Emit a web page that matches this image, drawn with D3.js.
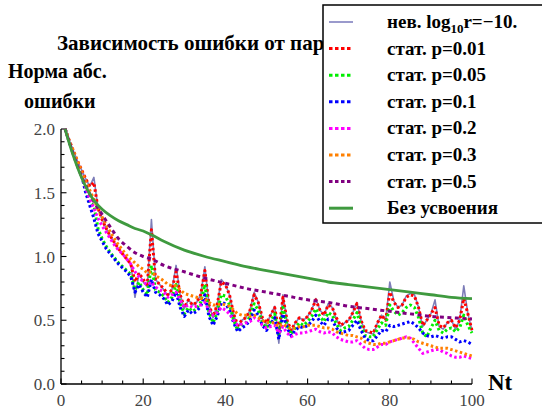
<!DOCTYPE html>
<html><head><meta charset="utf-8">
<script src="https://cdn.jsdelivr.net/npm/d3@7/dist/d3.min.js"></script>
<style>body{margin:0;background:#fff}svg{display:block}</style>
</head><body><svg id="c" width="542" height="410"></svg>
<script>
const nt = d3.range(1, 101);
const nevR10 = [2.00,1.91,1.83,1.75,1.68,1.61,1.55,1.62,1.38,1.29,
 1.22,1.16,1.11,1.06,1.02,0.98,0.94,0.68,0.87,0.80,
 0.76,1.29,0.82,0.78,0.74,0.69,0.74,0.93,0.70,0.59,
 0.66,0.62,0.64,0.70,0.92,0.62,0.52,0.62,0.82,0.78,
 0.70,0.55,0.44,0.50,0.52,0.58,0.72,0.64,0.51,0.47,
 0.54,0.61,0.32,0.70,0.49,0.41,0.48,0.52,0.50,0.53,
 0.58,0.67,0.58,0.54,0.63,0.60,0.51,0.45,0.48,0.50,
 0.56,0.64,0.50,0.41,0.40,0.39,0.48,0.54,0.50,0.80,
 0.65,0.60,0.62,0.69,0.71,0.70,0.60,0.45,0.50,0.55,
 0.66,0.45,0.43,0.48,0.50,0.43,0.50,0.77,0.55,0.42];
const p001 = [2.00,1.91,1.83,1.75,1.68,1.61,1.55,1.58,1.38,1.29,
 1.22,1.16,1.11,1.06,1.02,0.98,0.94,0.80,0.87,0.82,
 0.78,1.21,0.82,0.78,0.75,0.70,0.74,0.88,0.70,0.60,
 0.66,0.62,0.64,0.70,0.89,0.62,0.53,0.62,0.80,0.78,
 0.70,0.55,0.46,0.50,0.52,0.58,0.70,0.64,0.52,0.48,
 0.54,0.60,0.40,0.68,0.50,0.42,0.48,0.52,0.50,0.53,
 0.58,0.66,0.58,0.54,0.62,0.60,0.52,0.46,0.48,0.50,
 0.56,0.63,0.50,0.42,0.41,0.40,0.48,0.54,0.50,0.72,
 0.64,0.60,0.62,0.68,0.70,0.69,0.60,0.46,0.50,0.55,
 0.60,0.46,0.44,0.48,0.50,0.44,0.50,0.67,0.55,0.42];
const p005 = [2.00,1.90,1.81,1.72,1.64,1.52,1.42,1.40,1.22,1.14,
 1.08,1.03,0.99,0.95,0.92,0.89,0.86,0.74,0.80,0.74,
 0.70,0.93,0.74,0.72,0.69,0.64,0.68,0.78,0.63,0.55,
 0.60,0.57,0.59,0.64,0.78,0.56,0.48,0.56,0.70,0.69,
 0.62,0.50,0.42,0.46,0.48,0.53,0.63,0.58,0.48,0.44,
 0.49,0.55,0.38,0.60,0.46,0.39,0.44,0.48,0.46,0.49,
 0.53,0.59,0.53,0.49,0.56,0.54,0.47,0.42,0.44,0.45,
 0.50,0.56,0.45,0.38,0.37,0.37,0.43,0.48,0.46,0.62,
 0.57,0.54,0.56,0.60,0.62,0.60,0.52,0.40,0.37,0.44,
 0.50,0.42,0.40,0.43,0.44,0.41,0.44,0.54,0.46,0.40];
const p01 = [2.00,1.90,1.81,1.72,1.64,1.50,1.40,1.30,1.18,1.12,
 1.06,1.02,0.98,0.94,0.91,0.88,0.84,0.72,0.78,0.72,
 0.68,0.82,0.72,0.70,0.67,0.62,0.65,0.72,0.60,0.53,
 0.58,0.55,0.57,0.61,0.70,0.53,0.46,0.53,0.64,0.63,
 0.58,0.48,0.41,0.44,0.46,0.50,0.58,0.54,0.46,0.42,
 0.47,0.52,0.35,0.55,0.44,0.38,0.42,0.45,0.44,0.46,
 0.49,0.54,0.49,0.46,0.51,0.50,0.44,0.40,0.41,0.42,
 0.46,0.50,0.42,0.36,0.34,0.34,0.38,0.42,0.41,0.46,
 0.45,0.46,0.47,0.48,0.49,0.47,0.44,0.40,0.38,0.37,
 0.38,0.37,0.36,0.37,0.37,0.35,0.33,0.34,0.33,0.31];
const p02 = [2.00,1.90,1.81,1.72,1.64,1.54,1.45,1.38,1.30,1.24,
 1.19,1.14,1.09,1.05,1.02,0.98,0.94,0.88,0.84,0.80,
 0.78,0.80,0.76,0.74,0.72,0.68,0.70,0.72,0.66,0.60,
 0.62,0.60,0.61,0.62,0.64,0.58,0.54,0.56,0.60,0.58,
 0.55,0.50,0.46,0.47,0.48,0.49,0.52,0.50,0.46,0.44,
 0.45,0.46,0.40,0.45,0.40,0.37,0.39,0.40,0.40,0.41,
 0.42,0.43,0.41,0.40,0.41,0.40,0.37,0.35,0.34,0.33,
 0.33,0.34,0.31,0.28,0.27,0.27,0.29,0.31,0.31,0.33,
 0.34,0.35,0.36,0.37,0.36,0.32,0.28,0.24,0.25,0.26,
 0.27,0.27,0.25,0.24,0.22,0.21,0.21,0.22,0.21,0.20];
const p03 = [2.00,1.91,1.83,1.75,1.67,1.59,1.52,1.45,1.37,1.31,
 1.25,1.19,1.14,1.09,1.05,1.01,0.98,0.95,0.92,0.90,
 0.87,0.88,0.85,0.83,0.81,0.78,0.77,0.77,0.74,0.71,
 0.70,0.69,0.68,0.67,0.67,0.64,0.62,0.62,0.63,0.62,
 0.61,0.58,0.55,0.54,0.54,0.53,0.54,0.52,0.50,0.48,
 0.48,0.48,0.45,0.47,0.45,0.43,0.44,0.45,0.45,0.46,
 0.46,0.46,0.45,0.44,0.44,0.43,0.41,0.40,0.39,0.38,
 0.38,0.37,0.36,0.33,0.32,0.31,0.31,0.32,0.32,0.33,
 0.34,0.35,0.36,0.36,0.36,0.35,0.33,0.32,0.31,0.30,
 0.29,0.28,0.28,0.28,0.27,0.26,0.25,0.24,0.23,0.22];
const smoothNt = [1,2,3,4,5,6,7,8,10,12,14,16,18,20,22,25,30,35,40,45,50,55,60,65,70,75,80,85,90,95,100];
const p05 = [2.00,1.90,1.80,1.71,1.63,1.56,1.49,1.43,1.33,1.23,1.14,1.08,1.03,1.00,0.98,0.93,0.88,0.83,0.79,0.75,0.72,0.69,0.66,0.64,0.61,0.59,0.57,0.55,0.53,0.52,0.51];
const noAssim = [2.00,1.89,1.79,1.70,1.62,1.55,1.49,1.44,1.37,1.32,1.28,1.25,1.22,1.20,1.17,1.12,1.05,1.00,0.96,0.92,0.89,0.86,0.83,0.80,0.78,0.76,0.74,0.72,0.70,0.68,0.67];
const xTicks = [0,20,40,60,80,100];
const yTicks = [0.0,0.5,1.0,1.5,2.0];
const legendLabels = ["нев. log","стат. p=0.01","стат. p=0.05","стат. p=0.1","стат. p=0.2","стат. p=0.3","стат. p=0.5","Без усвоения"];

const FONT = '"Liberation Serif"';
const svg = d3.select("#c");
const x = d3.scaleLinear().domain([0,100]).range([61,472]);
const y = d3.scaleLinear().domain([0,2]).range([384,129]);

const series = [
  {name:"nev", xs:nt, ys:nevR10, color:"#6f6fb0", w:1.6, dash:null},
  {name:"p001", xs:nt, ys:p001, color:"#ff0000", w:3, dash:"2.5,2.5"},
  {name:"p005", xs:nt, ys:p005, color:"#00ee00", w:3, dash:"2.5,2.5"},
  {name:"p01", xs:nt, ys:p01, color:"#0000ff", w:3, dash:"2.5,2.5"},
  {name:"p02", xs:nt, ys:p02, color:"#ff00ff", w:3, dash:"2.5,2.5"},
  {name:"p03", xs:nt, ys:p03, color:"#ff8000", w:3, dash:"2.5,2.5"},
  {name:"p05", xs:smoothNt, ys:p05, color:"#800080", w:3, dash:"4,3.5"},
  {name:"none", xs:smoothNt, ys:noAssim, color:"#3f9a3f", w:2.8, dash:null}
];

// axes
const gx = svg.append("g").attr("transform","translate(0,384)");
gx.append("line").attr("x1",x(0)).attr("x2",x(100)).attr("stroke","#000").attr("stroke-width",1.3);
gx.selectAll("line.mn").data(d3.range(0,101,5)).join("line").attr("class","mn")
  .attr("x1",d=>x(d)).attr("x2",d=>x(d)).attr("y1",0).attr("y2",d=>d%20===0?-5.5:-3.5).attr("stroke","#000").attr("stroke-width",1.1);
gx.selectAll("text").data(xTicks).join("text").attr("x",d=>x(d)).attr("y",22)
  .attr("text-anchor","middle").attr("font-size",17).attr("fill","#444").style("font-family",FONT).text(d=>d);

const gy = svg.append("g").attr("transform","translate(61,0)");
gy.append("line").attr("y1",y(0)).attr("y2",y(2)).attr("stroke","#000").attr("stroke-width",1.3);
gy.selectAll("line.mn").data(d3.range(0,21)).join("line").attr("class","mn")
  .attr("y1",d=>y(d/10)).attr("y2",d=>y(d/10)).attr("x1",0).attr("x2",d=>d%5===0?5.5:3.5).attr("stroke","#000").attr("stroke-width",1.1);
gy.selectAll("text").data(yTicks).join("text").attr("x",-6).attr("y",d=>y(d)+6)
  .attr("text-anchor","end").attr("font-size",17).attr("fill","#444").style("font-family",FONT).text(d=>d.toFixed(1));

// lines
const line = d3.line().x(d=>x(d[0])).y(d=>y(d[1]));
const smooth = d3.line().x(d=>x(d[0])).y(d=>y(d[1])).curve(d3.curveMonotoneX);
series.forEach(s=>{
  const pts = s.xs.map((v,i)=>[v,s.ys[i]]);
  svg.append("path").attr("d",(s.xs===smoothNt?smooth:line)(pts)).attr("fill","none")
    .attr("stroke",s.color).attr("stroke-width",s.w).attr("stroke-linejoin","round")
    .attr("stroke-dasharray",s.dash).attr("opacity",s.name==="nev"?0.9:1);
});

// labels
function label(xp, yp, size, txt){
  return svg.append("text").attr("x",xp).attr("y",yp).attr("font-size",size).attr("font-weight","bold")
    .style("font-family",FONT).text(txt);
}
label(57,50,21,"Зависимость ошибки от параметра");
label(8,78,20,"Норма абс.");
label(24,108,20,"ошибки");
label(488,390,23,"Nt");

// legend
const lg = svg.append("g");
lg.append("rect").attr("x",323).attr("y",5).attr("width",240).attr("height",218)
  .attr("fill","#fff").attr("stroke","#000").attr("stroke-width",1.5);
series.forEach((s,i)=>{
  const cy = 22 + i*26.6;
  lg.append("line").attr("x1",329).attr("x2",353).attr("y1",cy).attr("y2",cy)
    .attr("stroke",i===0?"#9a9acc":(i===7?"#3f9a3f":s.color)).attr("stroke-width",i===0?2:3)
    .attr("stroke-dasharray",(s.dash? "3.5,2.5":null));
  const t = lg.append("text").attr("x",387).attr("y",cy+6).attr("font-size",19).attr("font-weight","bold")
    .style("font-family",FONT);
  if(i===0){
    t.append("tspan").text(legendLabels[0]);
    t.append("tspan").attr("font-size",13).attr("dy",5).text("10");
    t.append("tspan").attr("dy",-5).text("r=−10.");
  } else t.text(legendLabels[i]);
});
</script></body></html>
